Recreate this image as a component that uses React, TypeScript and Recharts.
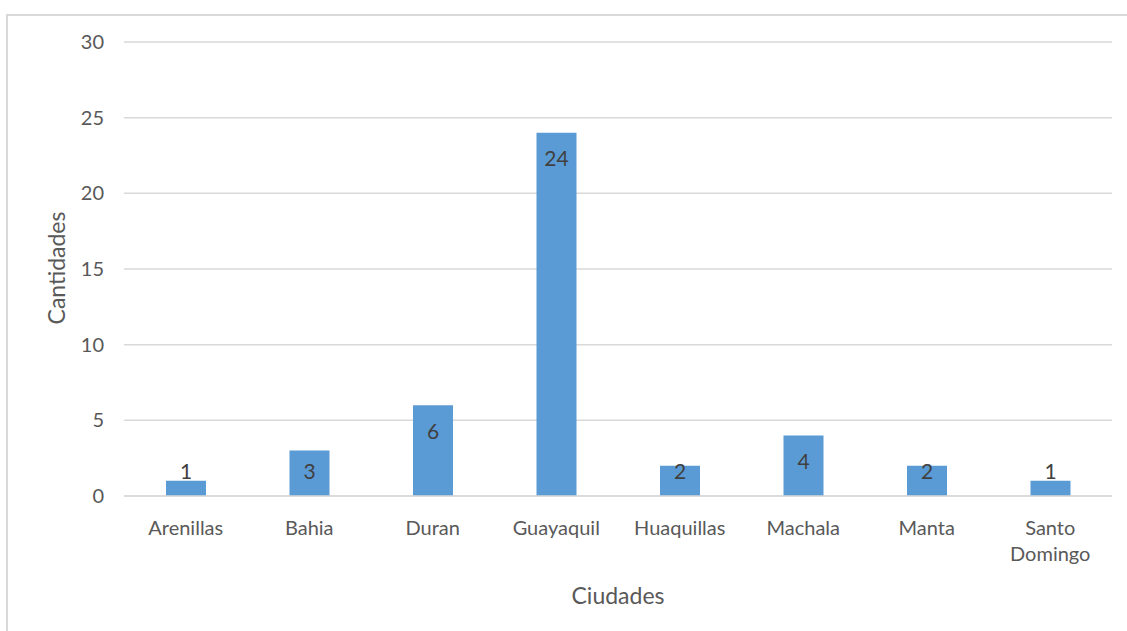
import React from 'react';
import { BarChart, Bar, XAxis, YAxis, CartesianGrid, LabelList, Label, Text } from 'recharts';

const cities = ['Arenillas', 'Bahia', 'Duran', 'Guayaquil', 'Huaquillas', 'Machala', 'Manta', 'Santo Domingo'];
const amounts = [1, 3, 6, 24, 2, 4, 2, 1];
const yTicks = [0, 5, 10, 15, 20, 25, 30];

const FONT = 'Lato, "Open Sans", sans-serif';
const TEXT_GRAY = '#595959';

const data = cities.map((city, i) => ({ city, count: amounts[i] }));

function CityTick(props: any) {
  const { x, y, payload } = props;
  return (
    <Text
      x={x}
      y={y + 17}
      width={100}
      textAnchor="middle"
      verticalAnchor="start"
      lineHeight={26}
      fill={TEXT_GRAY}
      fontSize={20}
      fontFamily={FONT}
    >
      {payload.value}
    </Text>
  );
}

function ValueLabel(props: any) {
  const { x, y, width, height, value } = props;
  const cy = Math.min(y + 26, y + height - 24);
  return (
    <text
      x={x + width / 2}
      y={cy}
      dy="0.35em"
      textAnchor="middle"
      fill="#404040"
      fontSize={21}
      fontFamily={FONT}
    >
      {value}
    </text>
  );
}

export default function App() {
  return (
    <div style={{ position: 'absolute', left: 0, top: 0, width: 1127, height: 631, background: '#fff', overflow: 'hidden' }}>
      <div
        style={{
          position: 'absolute',
          left: 6,
          top: 14,
          width: 1140,
          height: 640,
          border: '2px solid #d9d9d9',
        }}
      />
      <div style={{ position: 'absolute', left: 0, top: 0 }}>
        <BarChart
          width={1127}
          height={631}
          data={data}
          margin={{ top: 42, right: 15, bottom: 0, left: 0 }}
        >
          <CartesianGrid vertical={false} stroke="#d9d9d9" strokeWidth={1.5} />
          <XAxis
            dataKey="city"
            height={135}
            interval={0}
            tickLine={false}
            axisLine={{ stroke: '#d9d9d9', strokeWidth: 1.5 }}
            tick={<CityTick />}
          >
            <Label
              value="Ciudades"
              position="insideBottom"
              offset={27}
              fill={TEXT_GRAY}
              fontSize={23}
              fontFamily={FONT}
            />
          </XAxis>
          <YAxis
            width={124}
            domain={[0, 30]}
            ticks={yTicks}
            tickLine={false}
            axisLine={false}
            tickSize={0}
            tickMargin={20}
            tick={{ fill: TEXT_GRAY, fontSize: 20, fontFamily: FONT }}
          >
            <Label
              content={() => (
                <text
                  x={57}
                  y={268}
                  transform="rotate(-90 57 268)"
                  textAnchor="middle"
                  dy="0.35em"
                  fill={TEXT_GRAY}
                  fontSize={23}
                  fontFamily={FONT}
                >
                  Cantidades
                </text>
              )}
            />
          </YAxis>
          <Bar dataKey="count" fill="#5b9bd5" barSize={40} isAnimationActive={false}>
            <LabelList dataKey="count" content={<ValueLabel />} />
          </Bar>
        </BarChart>
      </div>
    </div>
  );
}
